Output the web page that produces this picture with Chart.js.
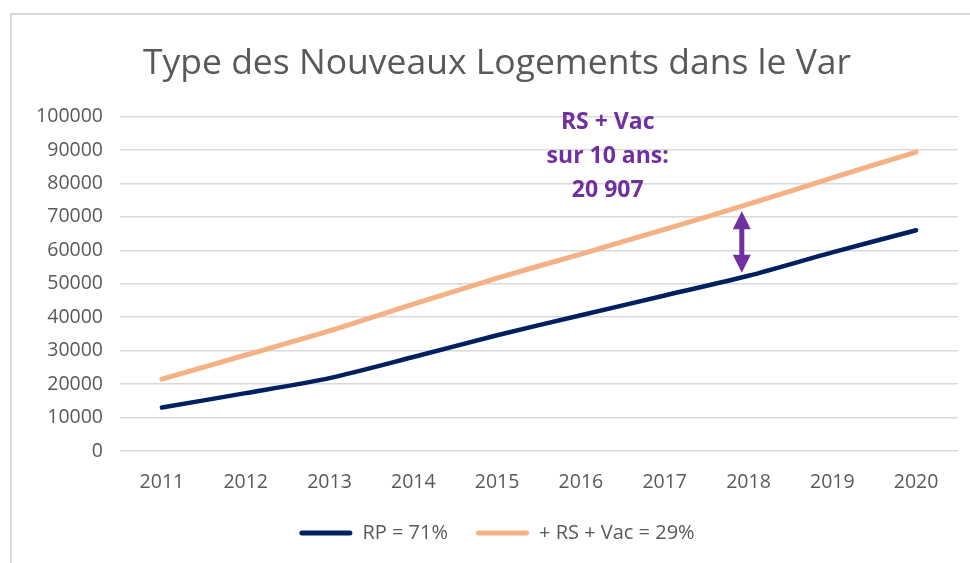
<!DOCTYPE html>
<html>
<head>
<meta charset="utf-8">
<script src="https://cdn.jsdelivr.net/npm/chart.js@4"></script>
<style>
  html, body { margin: 0; padding: 0; background: #fff; }
  canvas { display: block; }
</style>
</head>
<body>
<canvas id="chart" width="970" height="563"></canvas>
<script>
const years = ['2011', '2012', '2013', '2014', '2015', '2016', '2017', '2018', '2019', '2020'];
const rp = [13000, 17300, 21800, 28100, 34600, 40600, 46500, 52400, 59400, 66000];
const rsVac = [21500, 28700, 35900, 43900, 51700, 58900, 66300, 73800, 81700, 89400];
const seriesNames = ['RP = 71%', '+ RS + Vac = 29%'];
const noteLines = ['RS + Vac', 'sur 10 ans:', '20 907'];
const yMax = 100000;
const yStep = 10000;

const grey = '#595959';
const purple = '#7030A0';

// light frame around the chart, like the Excel chart border
const framePlugin = {
  id: 'frame',
  beforeDraw(chart) {
    const c = chart.ctx;
    c.save();
    c.strokeStyle = '#d9d9d9';
    c.lineWidth = 2;
    c.beginPath();
    c.moveTo(11, chart.height);
    c.lineTo(11, 14);
    c.lineTo(chart.width, 14);
    c.stroke();
    c.restore();
  }
};

// purple note + double arrow between the two lines at 2018
const notePlugin = {
  id: 'note',
  afterDatasetsDraw(chart) {
    const c = chart.ctx;
    const x = chart.scales.x, y = chart.scales.y;
    c.save();
    c.fillStyle = purple;
    c.font = 'bold 23px "Open Sans"';
    c.textAlign = 'center';
    c.textBaseline = 'middle';
    const tx = x.getPixelForValue(5.32);
    noteLines.forEach((t, i) => {
      c.fillText(t, tx, y.getPixelForValue(98200 - i * 10100));
    });

    const i = years.indexOf('2018');
    const ax = x.getPixelForValue(i - 0.08);
    const top = y.getPixelForValue(rsVac[i]) + 7;
    const bot = y.getPixelForValue(rp[i]) - 3;
    const head = 18, hw = 9;
    c.strokeStyle = purple;
    c.lineWidth = 5;
    c.beginPath();
    c.moveTo(ax, top + head - 2);
    c.lineTo(ax, bot - head + 2);
    c.stroke();
    c.beginPath();
    c.moveTo(ax, top);
    c.lineTo(ax - hw, top + head);
    c.lineTo(ax + hw, top + head);
    c.closePath();
    c.moveTo(ax, bot);
    c.lineTo(ax - hw, bot - head);
    c.lineTo(ax + hw, bot - head);
    c.closePath();
    c.fill();
    c.restore();
  }
};

const ctx = document.getElementById('chart').getContext('2d');
const chart = new Chart(ctx, {
  type: 'line',
  data: {
    labels: years,
    datasets: [{
      label: seriesNames[0],
      data: rp,
      borderColor: '#002060',
      backgroundColor: '#002060',
      borderWidth: 4.5,
      borderCapStyle: 'round',
      pointRadius: 0,
      tension: 0.25,
      fill: false
    }, {
      label: seriesNames[1],
      data: rsVac,
      borderColor: '#F4B183',
      backgroundColor: '#F4B183',
      borderWidth: 5,
      borderCapStyle: 'round',
      pointRadius: 0,
      tension: 0.25,
      fill: false
    }]
  },
  options: {
    responsive: false,
    devicePixelRatio: 1,
    animation: false,
    layout: { padding: { left: 36, right: 12, top: 0, bottom: 10 } },
    plugins: {
      title: {
        display: true,
        text: 'Type des Nouveaux Logements dans le Var',
        color: grey,
        font: { family: '"Open Sans"', size: 35.5, weight: 'normal' },
        padding: { top: 43, bottom: 31 }
      },
      legend: {
        position: 'bottom',
        labels: {
          color: grey,
          font: { family: '"Open Sans"', size: 20 },
          boxWidth: 53,
          boxHeight: 5,
          padding: 28,
          useBorderRadius: true,
          borderRadius: 2.5,
          generateLabels(chart) {
            return Chart.defaults.plugins.legend.labels.generateLabels(chart)
              .map(item => Object.assign(item, { lineWidth: 0 }));
          }
        }
      },
      tooltip: { enabled: false }
    },
    scales: {
      x: {
        offset: true,
        grid: { display: false },
        border: { display: false },
        ticks: {
          color: grey,
          font: { family: '"Open Sans"', size: 19.5 },
          padding: 12,
          maxRotation: 0
        },
        afterFit(s) { s.height = 44; }
      },
      y: {
        min: 0,
        max: yMax,
        grid: { color: '#d9d9d9', lineWidth: 1.5, drawTicks: false },
        border: { display: false },
        ticks: {
          stepSize: yStep,
          color: grey,
          font: { family: '"Open Sans"', size: 19.5 },
          padding: 17,
          callback: v => String(v)
        },
        afterFit(s) { s.width = 84; }
      }
    }
  },
  plugins: [framePlugin, notePlugin]
});
</script>
</body>
</html>
